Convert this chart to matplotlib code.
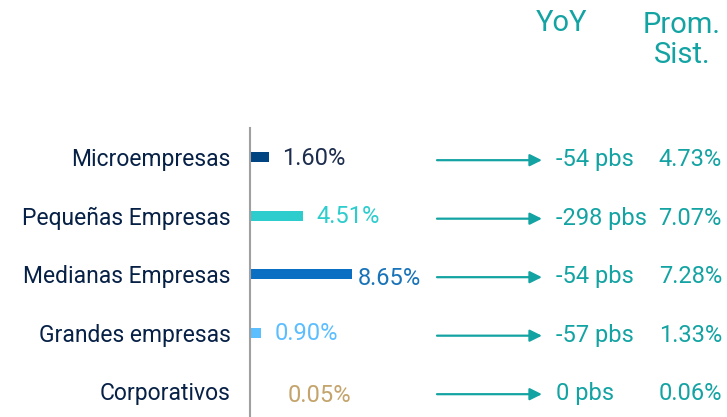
import matplotlib
matplotlib.use("Agg")
import matplotlib.pyplot as plt
import matplotlib.transforms as mtransforms

plt.rcParams['font.family'] = ['Roboto', 'DejaVu Sans']

# data
categorias = ["Microempresas", "Pequeñas Empresas", "Medianas Empresas",
              "Grandes empresas", "Corporativos"]
morosidad = [1.60, 4.51, 8.65, 0.90, 0.05]
yoy_pbs = [-54, -298, -54, -57, 0]
prom_sist = [4.73, 7.07, 7.28, 1.33, 0.06]

# styles
bar_colors = ["#004481", "#2dcccd", "#0a6fc2", "#5bbeff", "#8a9bb0"]
label_colors = ["#1d2d4d", "#2dcccd", "#1973b8", "#5bbeff", "#c4a46c"]
label_dx = [13, 13, 6, 14, 37]   # px from bar end
label_dy = [-1, -1, -4, -1, -4]
teal = "#14a3a3"
navy = "#072146"

fig = plt.figure(figsize=(7.27, 4.17), dpi=100)
ax = fig.add_axes([250 / 727, 0, 477 / 727, 289 / 417])

ypos = list(range(len(categorias)))
ax.barh(ypos, morosidad, height=0.17, color=bar_colors)
ax.set_xlim(0, 477 / 11.8)
ax.set_ylim(4.44, -0.5)

ax.set_yticks(ypos)
ax.set_yticklabels(categorias, fontsize=16.5, color=navy)
ax.tick_params(axis='y', length=0, pad=14)
ax.set_xticks([])
for s in ['top', 'right', 'bottom']:
    ax.spines[s].set_visible(False)
ax.spines['left'].set_color('#a0a0a0')
ax.spines['left'].set_linewidth(1.5)

for i, v in enumerate(morosidad):
    ax.annotate(f"{v:.2f}%", (v, i), xytext=(label_dx[i] * 0.72, label_dy[i] * 0.72),
                textcoords='offset points', ha='left', va='center',
                fontsize=17, color=label_colors[i])

trans = mtransforms.blended_transform_factory(ax.transAxes, ax.transData)
for i in ypos:
    ax.annotate("", xy=(0.612, i + 0.05), xycoords=trans,
                xytext=(0.392, i + 0.05), textcoords=trans,
                arrowprops=dict(arrowstyle='-|>', color=teal, lw=1.6,
                                mutation_scale=18, shrinkA=0, shrinkB=0))
    ax.text(0.6415, i + 0.04, f"{yoy_pbs[i]} pbs", transform=trans,
            ha='left', va='center', fontsize=17, color=teal)
    ax.text(0.9895, i + 0.04, f"{prom_sist[i]:.2f}%", transform=trans,
            ha='right', va='center', fontsize=17, color=teal)

fig.text(562 / 727, 1 - 23 / 417, "YoY", ha='center', va='center',
         fontsize=21, color=teal)
fig.text(682 / 727, 1 - 40 / 417, "Prom.\nSist.", ha='center', va='center',
         fontsize=21, color=teal, linespacing=1.1)

fig.savefig("out.png", dpi=100)
